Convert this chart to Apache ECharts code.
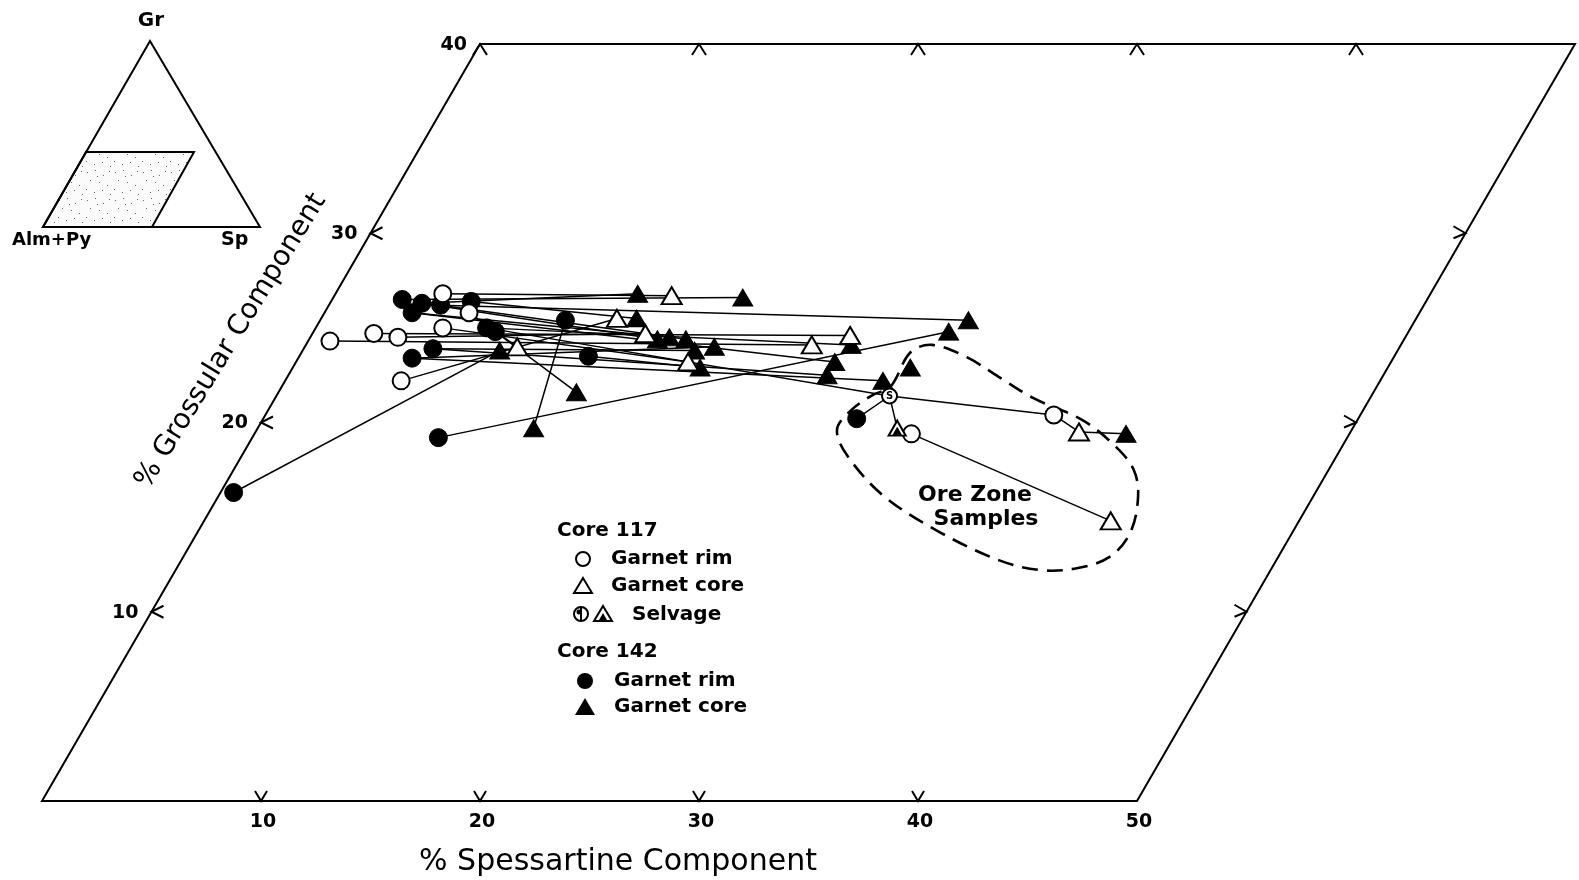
<!DOCTYPE html>
<html><head><meta charset="utf-8">
<script src="https://cdn.jsdelivr.net/npm/echarts@6/dist/echarts.min.js"></script>
<style>html,body{margin:0;padding:0;background:#fff}#c{width:1579px;height:880px}</style>
</head><body><div id="c"></div>
<script>
// ---- axis definitions (Sp = % spessartine, Gr = % grossular) ----
const SP_MAX = 50, GR_MAX = 40;
const spTicks = [10, 20, 30, 40];
const topTicks = [0, 10, 20, 30, 40];
const spLabelValues = [10, 20, 30, 40, 50];
const spLabels = ['10', '20', '30', '40', '50'];
const grTicks = [10, 20, 30];
const grLabelValues = [10, 20, 30, 40];
const grLabels = ['10', '20', '30', '40'];

// ---- data: [Sp, Gr] ----
const rim117 = [[1.0,24.3],[2.8,24.7],[4.0,24.5],[5.3,22.2],[5.8,25.0],[4.9,26.8],[6.6,25.8],[36.0,20.4],[30.0,19.4]];
const core117 = [[15.4,26.7],[13.5,25.5],[15.2,24.7],[17.9,23.2],[23.1,24.1],[24.6,24.6],[37.6,19.5],[41.4,14.8],[9.7,24.0]];
const selvageRim117 = [[28.0,21.4]];
const selvageCore117 = [[29.2,19.7]];
const rim142 = [[0.6,16.3],[3.2,26.5],[4.2,26.3],[4.0,25.8],[5.1,26.2],[6.4,26.4],[7.8,25.0],[8.3,24.8],[5.2,23.4],[5.9,23.9],[11.2,25.4],[13.2,23.5],[8.5,19.2],[27.1,20.2]];
const core142 = [[13.8,26.8],[18.7,26.6],[14.4,25.5],[15.9,24.4],[16.4,24.5],[17.2,24.4],[17.9,23.8],[18.7,24.0],[18.6,22.9],[9.0,23.8],[13.6,21.6],[12.6,19.7],[29.0,24.8],[29.6,25.4],[24.9,24.1],[24.6,23.2],[24.6,22.5],[27.3,22.2],[28.2,22.9],[39.8,19.4]];

// tie lines: [set, index, set, index]
const tieLines = [
  ['r142',0,'c142',9],['r142',12,'c142',12],['r142',10,'c142',11],['r142',7,'c142',10],
  ['r142',11,'c142',8],['r142',1,'c142',1],['r142',2,'c142',0],['r142',4,'c142',13],
  ['r142',5,'c142',2],['r142',3,'c142',4],['r142',6,'sr117',0],['r142',6,'c142',14],
  ['r142',8,'c142',17],['r142',9,'c142',16],['r142',9,'c142',6],['r142',8,'c142',7],
  ['r142',3,'c142',15],['r142',4,'c142',5],['r142',2,'c142',3],['r142',13,'sr117',0],
  ['r117',3,'c117',1],['r117',0,'c117',4],['r117',1,'c117',5],['r117',2,'c117',2],
  ['r117',5,'c117',0],['r117',4,'c117',3],['r117',6,'c117',8],['sr117',0,'sc117',0],
  ['sr117',0,'r117',7],['sr117',0,'c142',17],['r117',7,'c117',6],['c117',6,'c142',19],
  ['r117',8,'c117',7]
];

// ore zone outline [Sp, Gr]
const oreZoneOutline = [[27.8,21.9],[27.8,23.7],[28.6,24.1],[30.5,23.45],[32.5,22.4],[34.6,21.3],[37.5,20.1],[39.7,18.7],[41.1,17.5],[42.0,16.1],[42.6,14.2],[42.3,12.9],[41.1,12.3],[39.5,12.2],[37.4,12.7],[33.9,14.2],[30.4,16.1],[27.7,18.2],[26.5,19.6],[26.6,20.6],[27.2,21.45]];

// ---- oblique (60 deg) projection ----
const S3 = Math.sqrt(3) / 2;
function P(sp, gr) { return [sp + gr / 2, gr * S3]; }
const sets = { r117: rim117, c117: core117, sr117: selvageRim117, sc117: selvageCore117, r142: rim142, c142: core142 };
const FONT = '"DejaVu Sans", sans-serif';

const pc = document.createElement('canvas');
pc.width = 28; pc.height = 28;
(function(){
  const g = pc.getContext('2d');
  g.fillStyle = '#fbfbfb'; g.fillRect(0,0,28,28);
  g.fillStyle = '#666';
  [[3,4],[11,2],[19,7],[25,3],[6,12],[15,14],[23,17],[2,21],[10,24],[18,22],[26,26],[13,8]].forEach(p=>{g.fillRect(p[0],p[1],1,1);});
})();

const chart = echarts.init(document.getElementById('c'));

const frameSeries = {
  type: 'custom', coordinateSystem: 'cartesian2d', data: [[0, 0]], silent: true, z: 1,
  renderItem: function (params, api) {
    const C = (sp, gr) => api.coord(P(sp, gr));
    const ch = [];
    const st = { fill: 'none', stroke: '#000', lineWidth: 2 };
    ch.push({ type: 'polygon', shape: { points: [C(0,0), C(SP_MAX,0), C(SP_MAX,GR_MAX), C(0,GR_MAX)] }, style: st });
    const tick = pts => ch.push({ type: 'polyline', shape: { points: pts }, style: st });
    spTicks.forEach(v => { const b = C(v, 0); tick([[b[0]-6, b[1]-10], b, [b[0]+6, b[1]-10]]); });
    topTicks.forEach(v => { const t = C(v, GR_MAX); tick([[t[0]-7, t[1]+11], t, [t[0]+7, t[1]+11]]); });
    grTicks.forEach(v => { const l = C(0, v); tick([[l[0]+12, l[1]-6], l, [l[0]+12, l[1]+6]]); });
    grTicks.forEach(v => { const r = C(SP_MAX, v); tick([[r[0]-12, r[1]-7], r, [r[0]-12, r[1]+5]]); });
    spLabelValues.forEach((v, i) => {
      const b = C(v, 0);
      ch.push({ type: 'text', x: b[0] + 2, y: b[1] + 21, style: { text: spLabels[i], fill: '#000', font: 'bold 19px ' + FONT, align: 'center', verticalAlign: 'middle' } });
    });
    grLabelValues.forEach((v, i) => {
      const l = C(0, v);
      ch.push({ type: 'text', x: l[0] - 13, y: l[1] + 1, style: { text: grLabels[i], fill: '#000', font: 'bold 19px ' + FONT, align: 'right', verticalAlign: 'middle' } });
    });
    return { type: 'group', children: ch };
  }
};

const oreSeries = {
  type: 'custom', coordinateSystem: 'cartesian2d', data: [[0, 0]], silent: true, z: 2,
  renderItem: function (params, api) {
    const pts = oreZoneOutline.map(d => api.coord(P(d[0], d[1])));
    return { type: 'polygon', shape: { points: pts, smooth: 0.35 }, style: { fill: 'none', stroke: '#000', lineWidth: 2.6, lineDash: [16, 9] } };
  }
};

const tieSeries = {
  type: 'lines', coordinateSystem: 'cartesian2d', silent: true, z: 3,
  lineStyle: { color: '#000', width: 1.5, opacity: 1 },
  data: tieLines.map(t => {
    const a = sets[t[0]][t[1]], b = sets[t[2]][t[3]];
    return { coords: [P(a[0], a[1]), P(b[0], b[1])] };
  })
};

const openStyle = { color: '#fff', borderColor: '#000', borderWidth: 2, opacity: 1 };
const fillStyle = { color: '#000', borderColor: '#000', borderWidth: 1, opacity: 1 };
const tri = [20, 17];
function scatter(name, arr, symbol, size, style, z) {
  return { name, type: 'scatter', data: arr.map(d => P(d[0], d[1])), symbol, symbolSize: size, itemStyle: style, z: z || 5, silent: true };
}

const series = [
  frameSeries, oreSeries, tieSeries,
  scatter('Core 142 rim', rim142, 'circle', 18, fillStyle),
  scatter('Core 142 core', core142, 'triangle', tri, fillStyle),
  scatter('Core 117 rim', rim117, 'circle', 17, openStyle, 6),
  scatter('Core 117 core', core117, 'triangle', tri, openStyle, 6),
  Object.assign(scatter('Selvage rim', selvageRim117, 'circle', 15, openStyle, 7), {
    label: { show: true, position: 'inside', formatter: 'S', fontSize: 10, fontFamily: 'DejaVu Sans', color: '#000', fontWeight: 'bold' }
  }),
  scatter('Selvage core', selvageCore117, 'triangle', [17, 15], openStyle, 7),
  Object.assign(scatter('Selvage core mark', selvageCore117, 'triangle', [8, 7], fillStyle, 8), { symbolOffset: [0, 3] })
];

const T = (x, y, text, font, extra) => Object.assign({ type: 'text', x, y, silent: true, style: Object.assign({ text, fill: '#000', font: font + ' ' + FONT, align: 'left', verticalAlign: 'middle' }, extra || {}) });
const LF = 'bold 20px';
const graphic = [
  // inset ternary
  { type: 'polygon', silent: true, shape: { points: [[86,152],[194,152],[152,227],[43,227]] }, style: { fill: { image: pc, repeat: 'repeat' }, stroke: '#000', lineWidth: 2 } },
  { type: 'polygon', silent: true, shape: { points: [[150,41],[260,227],[43,227]] }, style: { fill: 'none', stroke: '#000', lineWidth: 2 } },
  T(151, 21, 'Gr', 'bold 20px', { align: 'center' }),
  T(12, 240, 'Alm+Py', 'bold 18px'),
  T(221, 240, 'Sp', 'bold 19px'),
  // axis titles
  T(618, 862, '% Spessartine Component', '30px', { align: 'center' }),
  Object.assign(T(231, 341, '% Grossular Component', '28px', { align: 'center' }), { rotation: 58.5 * Math.PI / 180 }),
  // ore zone
  T(975, 495, 'Ore Zone', 'bold 22px', { align: 'center' }),
  T(986, 519, 'Samples', 'bold 22px', { align: 'center' }),
  // legend
  T(557, 531, 'Core 117', LF),
  { type: 'circle', silent: true, shape: { cx: 583, cy: 559, r: 7 }, style: { fill: '#fff', stroke: '#000', lineWidth: 2 } },
  T(611, 559, 'Garnet rim', LF),
  { type: 'polygon', silent: true, shape: { points: [[583,578],[592,593],[574,593]] }, style: { fill: '#fff', stroke: '#000', lineWidth: 2 } },
  T(611, 586, 'Garnet core', LF),
  { type: 'circle', silent: true, shape: { cx: 581, cy: 614, r: 7 }, style: { fill: '#fff', stroke: '#000', lineWidth: 2 } },
  { type: 'line', silent: true, shape: { x1: 581, y1: 608, x2: 581, y2: 620 }, style: { stroke: '#000', lineWidth: 2 } },
  { type: 'circle', silent: true, shape: { cx: 579, cy: 612, r: 2.5 }, style: { fill: '#000' } },
  { type: 'polygon', silent: true, shape: { points: [[603,606],[612,621],[594,621]] }, style: { fill: '#fff', stroke: '#000', lineWidth: 2 } },
  { type: 'polygon', silent: true, shape: { points: [[603,613],[607,620],[599,620]] }, style: { fill: '#000' } },
  T(632, 615, 'Selvage', LF),
  T(557, 652, 'Core 142', LF),
  { type: 'circle', silent: true, shape: { cx: 585, cy: 681, r: 8 }, style: { fill: '#000' } },
  T(614, 681, 'Garnet rim', LF),
  { type: 'polygon', silent: true, shape: { points: [[585,698],[595,715],[575,715]] }, style: { fill: '#000' } },
  T(614, 707, 'Garnet core', LF)
];

chart.setOption({
  animation: false,
  backgroundColor: '#fff',
  grid: { left: 42, right: 4, top: 44, bottom: 79, containLabel: false },
  xAxis: { type: 'value', min: 0, max: 70, show: false },
  yAxis: { type: 'value', min: 0, max: GR_MAX * S3, show: false },
  series,
  graphic
});
</script>
</body></html>
